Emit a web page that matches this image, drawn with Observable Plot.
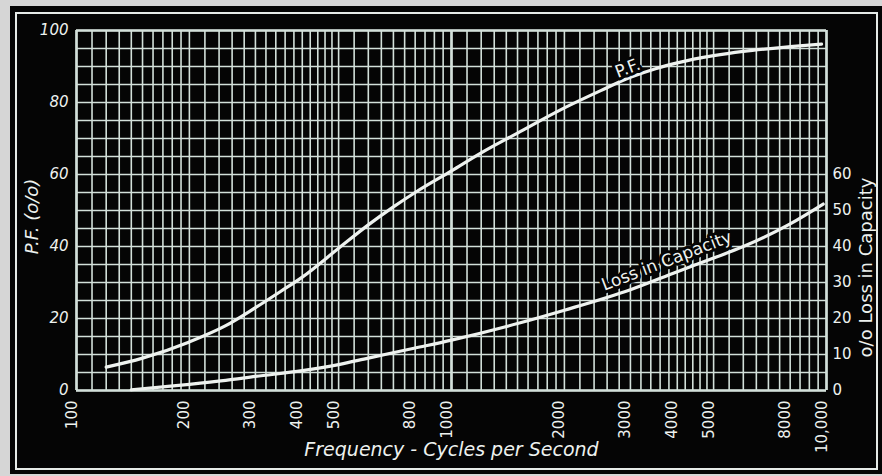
<!DOCTYPE html>
<html><head><meta charset="utf-8">
<script src="https://cdn.jsdelivr.net/npm/d3@7"></script>
<script src="https://cdn.jsdelivr.net/npm/@observablehq/plot@0.6"></script>
<style>
html,body{margin:0;padding:0;background:#d6d6d6;width:882px;height:476px;overflow:hidden;}
#panel{position:absolute;left:10px;top:6px;width:872px;height:468px;background:#050505;}
#frame{position:absolute;left:15px;top:12px;width:863px;height:458px;border:2px solid #e6ebe8;box-sizing:border-box;}
#chart{position:absolute;left:0;top:0;}
</style></head><body>
<div id="panel"></div><div id="frame"></div><div id="chart"></div>
<script>
// P.F. curve (percent) vs frequency
const pfFreq  = [120, 150, 200, 250, 300, 350, 400, 500, 600, 700, 800, 1000, 1200, 1500, 2000, 2500, 3000, 3500, 4000, 5000, 6000, 8000, 9700];
const pfValue = [6.5, 9, 13.5, 18, 23, 27.5, 31.5, 39.5, 46, 51, 55, 61, 66, 71.5, 78.5, 83.3, 87, 89.4, 91, 93, 94.2, 95.5, 96.2];
// % Loss in Capacity vs frequency
const lossFreq  = [140, 170, 200, 250, 300, 400, 500, 600, 800, 1000, 1500, 2000, 3000, 4000, 5000, 6000, 8000, 9800];
const lossValue = [0.2, 1.0, 1.7, 2.8, 3.9, 5.5, 7.2, 9, 11.8, 14, 18.6, 22.3, 28, 33, 36.8, 40, 46.3, 51.8];

const xTickValues = [100, 200, 300, 400, 500, 800, 1000, 2000, 3000, 4000, 5000, 8000, 10000];
const xTickLabels = ["100", "200", "300", "400", "500", "800", "1000", "2000", "3000", "4000", "5000", "8000", "10,000"];
const pfTicks = [0, 20, 40, 60, 80, 100];
const lossTicks = [0, 10, 20, 30, 40, 50, 60];
const majorFreqs = [100, 1000, 10000];
const gridFreqs = [
  ...d3.range(100, 200, 10), ...d3.range(200, 500, 20), ...d3.range(500, 1000, 50),
  ...d3.range(1000, 2000, 100), ...d3.range(2000, 5000, 200), ...d3.range(5000, 10001, 500)
];
const gridValues = d3.range(0, 101, 5);

const labelText  = ["P.F.", "Loss in Capacity"];
const labelFreq  = [2950, 3750];
const labelValue = [89.5, 36];
const labelAngle = [-21, -21];

const xTitle = "Frequency - Cycles per Second";
const yLeftTitle = "P.F. (o/o)";
const yRightTitle = "o/o Loss in Capacity";

const pf = pfFreq.map((f, i) => ({freq: f, value: pfValue[i]}));
const loss = lossFreq.map((f, i) => ({freq: f, value: lossValue[i]}));
const labels = labelText.map((t, i) => ({text: t, freq: labelFreq[i], value: labelValue[i], angle: labelAngle[i]}));
const xTicks = xTickValues.map((v, i) => ({freq: v, label: xTickLabels[i]}));

const ink = "#eef2ef";
const gridInk = "#d3e0da";

const chart = Plot.plot({
  width: 882, height: 476,
  marginLeft: 76, marginRight: 56, marginTop: 30, marginBottom: 86,
  style: {background: "transparent", fontFamily: "DejaVu Sans", color: ink},
  x: {type: "log", domain: [100, 10000], axis: null},
  y: {domain: [0, 100]},
  marks: [
    Plot.ruleX(gridFreqs, {stroke: gridInk, strokeWidth: 1.6}),
    Plot.ruleY(gridValues, {stroke: gridInk, strokeWidth: 1.6}),
    Plot.ruleX(majorFreqs, {stroke: gridInk, strokeWidth: 2.6}),
    Plot.ruleY([0, 100], {stroke: gridInk, strokeWidth: 2.6}),
    Plot.line(pf, {x: "freq", y: "value", curve: "monotone-x", stroke: ink, strokeWidth: 3.2}),
    Plot.line(loss, {x: "freq", y: "value", curve: "monotone-x", stroke: ink, strokeWidth: 3.2}),
    Plot.text(labels, {x: "freq", y: "value", text: "text", rotate: "angle", fill: ink, stroke: "#050505", strokeWidth: 6, fontSize: 17}),
    Plot.text(xTicks, {x: "freq", text: "label", frameAnchor: "bottom", rotate: -90, textAnchor: "end", dy: 10, fontSize: 15, fill: ink}),
    Plot.axisY({ticks: pfTicks, anchor: "left", tickSize: 0, tickPadding: 8, fontSize: 15, fontStyle: "italic", color: ink, label: null}),
    Plot.axisY({ticks: lossTicks, anchor: "right", tickSize: 0, tickPadding: 6, fontSize: 15, color: ink, label: null}),
    Plot.text([xTitle], {text: d => d, frameAnchor: "bottom", textAnchor: "middle", dy: 65, fontSize: 19, fontStyle: "italic", fill: ink}),
    Plot.text([yLeftTitle], {text: d => d, frameAnchor: "left", textAnchor: "middle", dx: -44, dy: 6, rotate: -90, fontSize: 18, fontStyle: "italic", fill: ink}),
    Plot.text([yRightTitle], {text: d => d, frameAnchor: "right", textAnchor: "middle", dx: 40, dy: 57, rotate: -90, fontSize: 18, fill: ink})
  ]
});
document.getElementById("chart").appendChild(chart);
</script></body></html>
